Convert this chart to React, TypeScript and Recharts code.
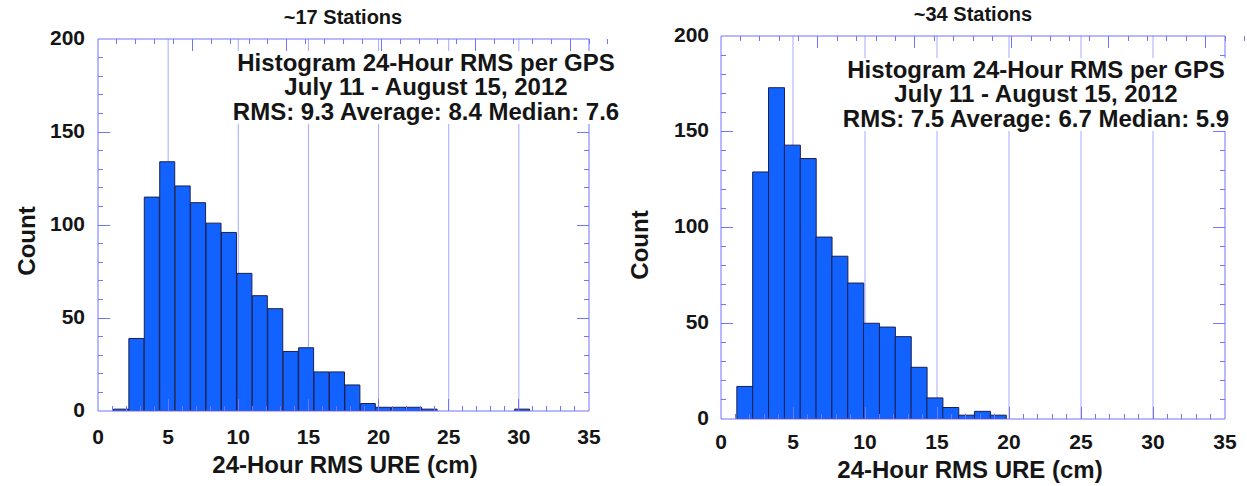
import React from "react";
import { BarChart, Bar, XAxis, YAxis, CartesianGrid } from "recharts";

const FONT = '"Liberation Sans", Arial, Helvetica, sans-serif';
const AXIS = "#7373ff";
const GRID = "#a8a8ff";
const BAR_FILL = "#1262ff";
const BAR_EDGE = "#1a2050";
const INK = "#151515";

// histogram bins (lower edges, cm) shared by both panels
const binStarts = [
  1.1, 2.2, 3.3, 4.4, 5.5, 6.6, 7.7, 8.8, 9.9, 11.0, 12.1, 13.2, 14.3, 15.4,
  16.5, 17.6, 18.7, 19.8, 20.9, 22.0, 23.1, 24.2, 25.3, 26.4, 27.5, 28.6, 29.7,
];
const binWidth = 1.1;

const counts17 = [
  1, 39, 115, 134, 121, 112, 101, 96, 74, 62, 55, 32, 34, 21, 21, 14, 4, 2, 2,
  2, 1, 0, 0, 0, 0, 0, 1,
];
const counts34 = [
  17, 129, 173, 143, 136, 95, 85, 71, 50, 48, 43, 27, 11, 6, 2, 4, 2, 0, 0, 0,
  0, 0, 0, 0, 0, 0, 0,
];

const xTicks = [
  0, 1, 2, 3, 4, 5, 6, 7, 8, 9, 10, 11, 12, 13, 14, 15, 16, 17, 18, 19, 20, 21,
  22, 23, 24, 25, 26, 27, 28, 29, 30, 31, 32, 33, 34, 35,
];
const xGrid = [5, 10, 15, 20, 25, 30];
const yTicks = [
  0, 10, 20, 30, 40, 50, 60, 70, 80, 90, 100, 110, 120, 130, 140, 150, 160, 170,
  180, 190, 200,
];

const stats17 = [
  "Histogram 24-Hour RMS per GPS",
  "July 11 - August 15, 2012",
  "RMS: 9.3 Average: 8.4 Median: 7.6",
];
const stats34 = [
  "Histogram 24-Hour RMS per GPS",
  "July 11 - August 15, 2012",
  "RMS: 7.5 Average: 6.7 Median: 5.9",
];
const xTitle = "24-Hour RMS URE (cm)";
const yTitle = "Count";

type Panel = {
  left: number;
  width: number;
  plot: { l: number; r: number; t: number; b: number };
  tickFont: number;
  xLabelGap: number;
  yLabelGap: number;
  title: string;
  titleX: number;
  titleY: number;
  stats: string[];
  statsX: number;
  statsY: number;
  statsLH: number;
  statsFont: number;
  xTitleX: number;
  xTitleY: number;
  yTitleX: number;
  yTitleY: number;
  counts: number[];
};

const H = 486;

function label(fs: number) {
  return { fontFamily: FONT, fontWeight: 700, fontSize: fs, fill: INK } as const;
}

function Histogram({ p }: { p: Panel }) {
  const data = binStarts.map((s, i) => ({ x: s + binWidth / 2, count: p.counts[i] }));

  const bottomTick = (props: any) => {
    const { x, y, payload } = props;
    const v = Number(payload.value);
    const major = v % 5 === 0;
    return (
      <g>
        {v > 0 && v < 35 && (
          <line x1={x} x2={x} y1={y} y2={y - (major ? 12 : 5)} stroke={AXIS} strokeWidth={1} shapeRendering="crispEdges" />
        )}
        {major && (
          <text x={x} y={y + p.xLabelGap} textAnchor="middle" dominantBaseline="central" {...label(p.tickFont)}>
            {v}
          </text>
        )}
      </g>
    );
  };
  const topTick = (props: any) => {
    const { x, y, payload } = props;
    const v = Number(payload.value);
    if (v <= 0 || v >= 35) return <g />;
    return (
      <line x1={x} x2={x} y1={y} y2={y + (v % 5 === 0 ? 12 : 5)} stroke={AXIS} strokeWidth={1} shapeRendering="crispEdges" />
    );
  };
  const leftTick = (props: any) => {
    const { x, y, payload } = props;
    const v = Number(payload.value);
    const major = v % 50 === 0;
    return (
      <g>
        {v > 0 && v < 200 && (
          <line x1={x} x2={x + (major ? 12 : 5)} y1={y} y2={y} stroke={AXIS} strokeWidth={1} shapeRendering="crispEdges" />
        )}
        {major && (
          <text x={x - p.yLabelGap} y={y - 2} textAnchor="end" dominantBaseline="central" {...label(p.tickFont)}>
            {v}
          </text>
        )}
      </g>
    );
  };
  const rightTick = (props: any) => {
    const { x, y, payload } = props;
    const v = Number(payload.value);
    if (v <= 0 || v >= 200) return <g />;
    return (
      <line x1={x} x2={x - (v % 50 === 0 ? 12 : 5)} y1={y} y2={y} stroke={AXIS} strokeWidth={1} shapeRendering="crispEdges" />
    );
  };

  const textBase: React.CSSProperties = {
    position: "absolute",
    fontFamily: FONT,
    fontWeight: 700,
    color: INK,
    whiteSpace: "nowrap",
    lineHeight: 1,
  };

  return (
    <div style={{ position: "absolute", left: p.left, top: 0, width: p.width, height: H }}>
      <BarChart
        width={p.width}
        height={H}
        data={data}
        barCategoryGap={0}
        barGap={0}
        margin={{
          top: p.plot.t - 1,
          right: p.width - p.plot.r - 1,
          bottom: H - p.plot.b - 10,
          left: p.plot.l - 10,
        }}
      >
        <CartesianGrid horizontal={false} stroke={GRID} verticalValues={xGrid} />
        <XAxis
          xAxisId={0}
          dataKey="x"
          type="number"
          domain={[0, 35]}
          ticks={xTicks}
          interval={0}
          height={10}
          tickLine={false}
          tickSize={0}
          tickMargin={0}
          axisLine={{ stroke: AXIS }}
          tick={bottomTick}
          allowDataOverflow
        />
        <XAxis
          xAxisId="top"
          orientation="top"
          type="number"
          domain={[0, 35]}
          ticks={xTicks}
          interval={0}
          height={1}
          tickLine={false}
          tickSize={0}
          tickMargin={0}
          axisLine={{ stroke: AXIS }}
          tick={topTick}
          allowDataOverflow
        />
        <YAxis
          yAxisId={0}
          type="number"
          domain={[0, 200]}
          ticks={yTicks}
          interval={0}
          width={10}
          tickLine={false}
          tickSize={0}
          tickMargin={0}
          axisLine={{ stroke: AXIS }}
          tick={leftTick}
          allowDataOverflow
        />
        <YAxis
          yAxisId="right"
          orientation="right"
          type="number"
          domain={[0, 200]}
          ticks={yTicks}
          interval={0}
          width={1}
          tickLine={false}
          tickSize={0}
          tickMargin={0}
          axisLine={{ stroke: AXIS }}
          tick={rightTick}
          allowDataOverflow
        />
        <Bar
          dataKey="count"
          xAxisId={0}
          yAxisId={0}
          fill={BAR_FILL}
          stroke={BAR_EDGE}
          strokeWidth={1}
          isAnimationActive={false}
        />
      </BarChart>

      <div
        style={{
          ...textBase,
          fontSize: 20,
          left: p.titleX,
          top: p.titleY,
          transform: "translate(-50%, -50%)",
        }}
      >
        {p.title}
      </div>

      <div
        style={{
          ...textBase,
          fontSize: p.statsFont,
          lineHeight: `${p.statsLH}px`,
          textAlign: "center",
          background: "#fff",
          padding: "0 2px",
          left: p.statsX,
          top: p.statsY - p.statsLH / 2,
          transform: "translateX(-50%)",
        }}
      >
        {p.stats.map((s) => (
          <div key={s}>{s}</div>
        ))}
      </div>

      <div
        style={{
          ...textBase,
          fontSize: 24,
          left: p.xTitleX,
          top: p.xTitleY,
          transform: "translate(-50%, -50%)",
        }}
      >
        {xTitle}
      </div>

      <div
        style={{
          ...textBase,
          fontSize: 24,
          left: p.yTitleX,
          top: p.yTitleY,
          transform: "translate(-50%, -50%) rotate(-90deg)",
        }}
      >
        {yTitle}
      </div>
    </div>
  );
}

const leftPanel: Panel = {
  left: 0,
  width: 620,
  plot: { l: 98, r: 589, t: 39, b: 411 },
  tickFont: 21,
  xLabelGap: 25,
  yLabelGap: 13,
  title: "~17 Stations",
  titleX: 343,
  titleY: 17,
  stats: stats17,
  statsX: 426,
  statsY: 63,
  statsLH: 24.5,
  statsFont: 24,
  xTitleX: 345,
  xTitleY: 465,
  yTitleX: 27,
  yTitleY: 241,
  counts: counts17,
};

const rightPanel: Panel = {
  left: 620,
  width: 627,
  plot: { l: 101, r: 605, t: 36, b: 419 },
  tickFont: 21,
  xLabelGap: 22,
  yLabelGap: 12,
  title: "~34 Stations",
  titleX: 353,
  titleY: 14,
  stats: stats34,
  statsX: 416,
  statsY: 70,
  statsLH: 24.5,
  statsFont: 24,
  xTitleX: 350,
  xTitleY: 470,
  yTitleX: 20,
  yTitleY: 245,
  counts: counts34,
};

export default function App() {
  return (
    <div
      style={{
        position: "absolute",
        left: 0,
        top: 0,
        width: 1247,
        height: H,
        background: "#fff",
        overflow: "hidden",
      }}
    >
      <Histogram p={leftPanel} />
      <Histogram p={rightPanel} />
    </div>
  );
}
